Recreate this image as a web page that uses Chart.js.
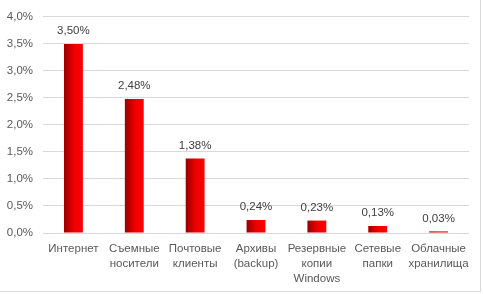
<!DOCTYPE html>
<html>
<head>
<meta charset="utf-8">
<script src="https://cdn.jsdelivr.net/npm/chart.js@4"></script>
<style>
  html, body { margin: 0; padding: 0; background: #fff; }
  #wrap { width: 483px; height: 294px; position: relative; }
</style>
</head>
<body>
<div id="wrap"><canvas id="chart" width="483" height="294"></canvas></div>
<script>
// Категорії та значення (у відсотках)
const categories = [
  ['Интернет'],
  ['Съемные', 'носители'],
  ['Почтовые', 'клиенты'],
  ['Архивы', '(backup)'],
  ['Резервные', 'копии', 'Windows'],
  ['Сетевые', 'папки'],
  ['Облачные', 'хранилища']
];
const values = [3.50, 2.48, 1.38, 0.24, 0.23, 0.13, 0.03];
const yTicks = [0, 0.5, 1, 1.5, 2, 2.5, 3, 3.5, 4];

const FONT = '"Liberation Sans", Arial, sans-serif';
const BAR_PCT = 0.31;
const fmt = (v, d) => v.toFixed(d).replace('.', ',') + '%';

// Градієнт для кожного стовпця: темно-червоний зліва, яскраво-червоний справа
function barGradient(c) {
  const chart = c.chart;
  const x = chart.scales.x;
  if (!x || !chart.chartArea || c.dataIndex === undefined) return '#e00000';
  const center = x.getPixelForValue(c.dataIndex);
  const w = (chart.chartArea.width / categories.length) * BAR_PCT;
  const left = center - w / 2;
  const g = chart.ctx.createLinearGradient(left, 0, left + w, 0);
  g.addColorStop(0, '#9a0000');
  g.addColorStop(0.55, '#f00000');
  g.addColorStop(1, '#ff0000');
  return g;
}

// Підписи значень над стовпцями
const valueLabels = {
  id: 'valueLabels',
  afterDatasetsDraw(chart) {
    const ctx = chart.ctx;
    ctx.save();
    ctx.font = '11.5px ' + FONT;
    ctx.fillStyle = '#404040';
    ctx.textAlign = 'center';
    ctx.textBaseline = 'middle';
    chart.getDatasetMeta(0).data.forEach((bar, i) => {
      ctx.fillText(fmt(values[i], 2), bar.x, bar.y - 13);
    });
    ctx.restore();
  }
};

// Рамка області діаграми
const chartBorder = {
  id: 'chartBorder',
  afterDraw(chart) {
    const ctx = chart.ctx;
    ctx.save();
    ctx.strokeStyle = '#d9d9d9';
    ctx.lineWidth = 1;
    ctx.strokeRect(-1, -1, 481.5, 292.5);
    ctx.restore();
  }
};

new Chart(document.getElementById('chart'), {
  type: 'bar',
  data: {
    labels: categories,
    datasets: [{
      data: values,
      backgroundColor: barGradient,
      categoryPercentage: 1,
      barPercentage: BAR_PCT
    }]
  },
  options: {
    responsive: false,
    animation: false,
    layout: { padding: { top: 15, right: 14, left: 0, bottom: 0 } },
    plugins: {
      legend: { display: false },
      tooltip: { enabled: false }
    },
    scales: {
      x: {
        grid: { display: false },
        border: { display: false },
        ticks: {
          color: '#595959',
          font: { family: FONT, size: 11.5, lineHeight: 1.33 },
          padding: 0,
          maxRotation: 0,
          autoSkip: false
        },
        afterFit(scale) { scale.height = 61; }
      },
      y: {
        min: 0,
        max: 4,
        afterBuildTicks(scale) { scale.ticks = yTicks.map(v => ({ value: v })); },
        grid: { color: '#d9d9d9', drawTicks: false },
        border: { display: false },
        ticks: {
          color: '#595959',
          font: { family: FONT, size: 11.5 },
          padding: 10,
          callback: v => fmt(v, 1)
        },
        afterFit(scale) { scale.width = 43; }
      }
    }
  },
  plugins: [valueLabels, chartBorder]
});
</script>
</body>
</html>
